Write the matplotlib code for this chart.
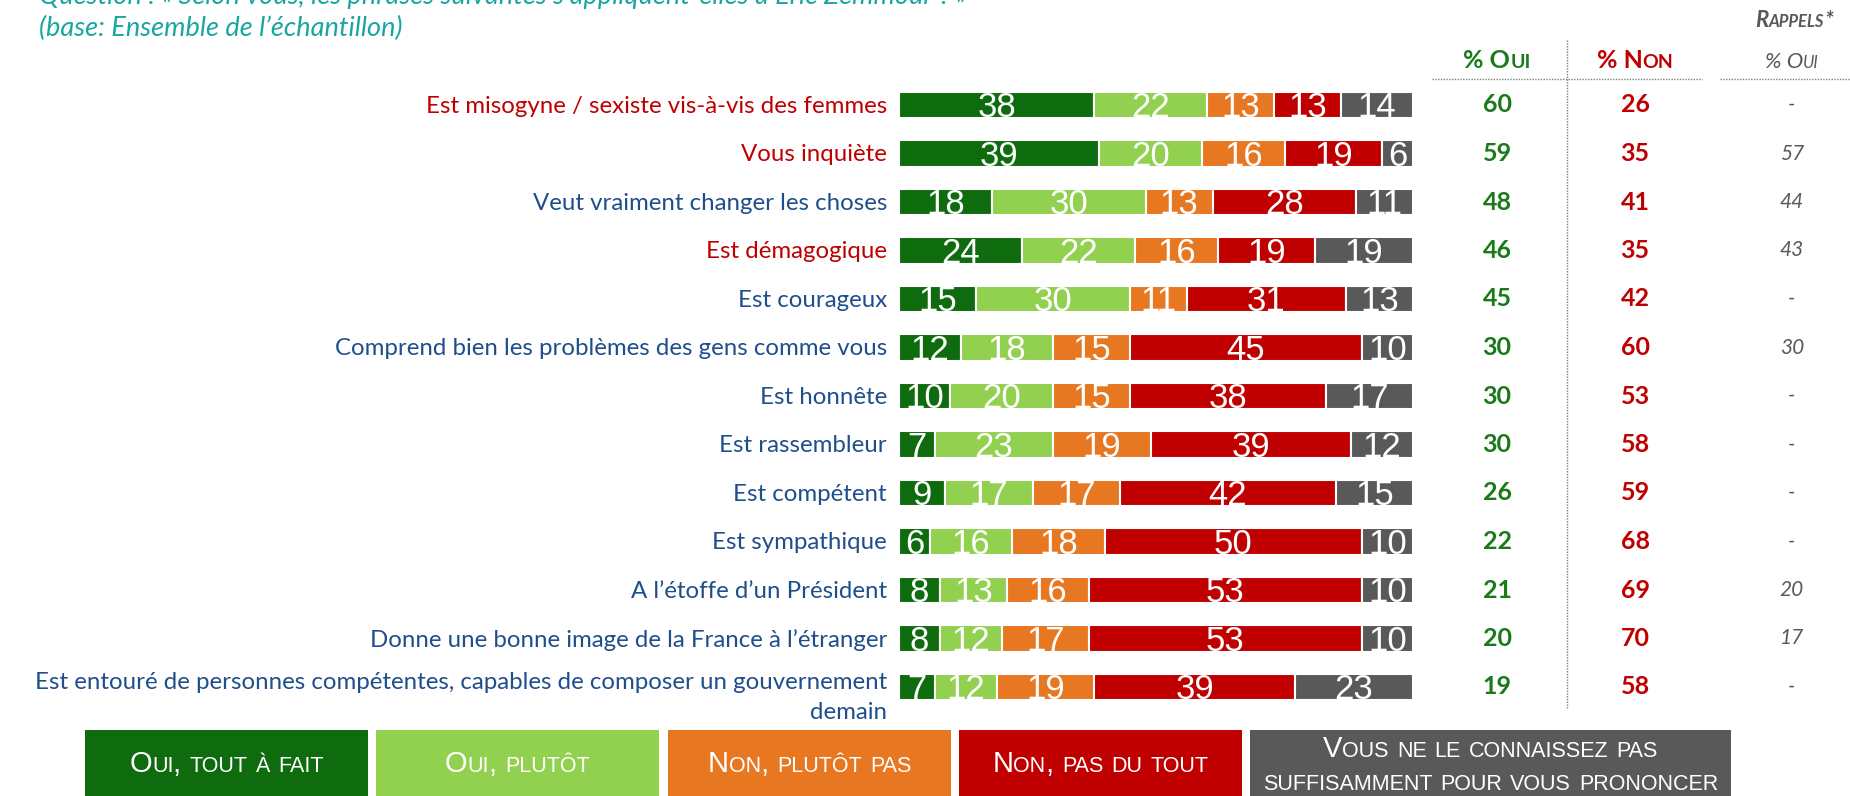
import matplotlib
matplotlib.use('Agg')
import numpy as np
import matplotlib.pyplot as plt
from matplotlib.transforms import IdentityTransform, blended_transform_factory
from matplotlib.patches import Rectangle
from matplotlib.font_manager import FontProperties, fontManager

# Data
labels = [
    "Est misogyne / sexiste vis-à-vis des femmes",
    "Vous inquiète",
    "Veut vraiment changer les choses",
    "Est démagogique",
    "Est courageux",
    "Comprend bien les problèmes des gens comme vous",
    "Est honnête",
    "Est rassembleur",
    "Est compétent",
    "Est sympathique",
    "A l’étoffe d’un Président",
    "Donne une bonne image de la France à l’étranger",
    "Est entouré de personnes compétentes, capables de composer un gouvernement\ndemain",
]
negative_items = [0, 1, 3]  # items written in red

oui_tout_a_fait = [38, 39, 18, 24, 15, 12, 10, 7, 9, 6, 8, 8, 7]
oui_plutot = [22, 20, 30, 22, 30, 18, 20, 23, 17, 16, 13, 12, 12]
non_plutot_pas = [13, 16, 13, 16, 11, 15, 15, 19, 17, 18, 16, 17, 19]
non_pas_du_tout = [13, 19, 28, 19, 31, 45, 38, 39, 42, 50, 53, 53, 39]
ne_connait_pas = [14, 6, 11, 19, 13, 10, 17, 12, 15, 10, 10, 10, 23]

total_oui = [60, 59, 48, 46, 45, 30, 30, 30, 26, 22, 21, 20, 19]
total_non = [26, 35, 41, 35, 42, 60, 53, 58, 59, 68, 69, 70, 58]
rappels_oui = ['-', '57', '44', '43', '-', '30', '-', '-', '-', '-', '20', '17', '-']

series_names = ["Oui, tout à fait", "Oui, plutôt", "Non, plutôt pas", "Non, pas du tout",
                "Vous ne le connaissez pas\nsuffisamment pour vous prononcer"]
series = [oui_tout_a_fait, oui_plutot, non_plutot_pas, non_pas_du_tout, ne_connait_pas]
colors = ['#0e6b0e', '#92d050', '#e87722', '#c00000', '#595959']

GREEN = '#1a7a1a'
RED = '#c00000'
BLUE = '#1f4e8c'
TEAL = '#1aa6a0'
GRAY = '#595959'

installed = {f.name for f in fontManager.ttflist}
NARROW = 'Liberation Sans Narrow' if 'Liberation Sans Narrow' in installed else 'Liberation Sans'
BODY = 'Lato'

W, H = 1850, 796
fig = plt.figure(figsize=(W / 100, H / 100), dpi=100)
renderer = fig.canvas.get_renderer()
pix = IdentityTransform()


def text_width(s, prop):
    w1, _, _ = renderer.get_text_width_height_descent('|' + s + '|', prop, ismath=False)
    w0, _, _ = renderer.get_text_width_height_descent('||', prop, ismath=False)
    return w1 - w0


def smallcaps(x, y_top, s, big, small, color, ha='center', family=BODY, **kw):
    # y_top: baseline position measured from the top of the figure, in pixels
    runs = []
    for ch in s:
        is_small = ch.islower()
        if runs and runs[-1][1] == is_small:
            runs[-1][0] += ch
        else:
            runs.append([ch, is_small])
    parts = []
    for txt, is_small in runs:
        size = small if is_small else big
        prop = FontProperties(family=family, size=size, **kw)
        parts.append((txt.upper(), size, text_width(txt.upper(), prop)))
    total = sum(p[2] for p in parts)
    x0 = x - total / 2 if ha == 'center' else (x - total if ha == 'right' else x)
    for txt, size, w in parts:
        fig.text(x0, H - y_top, txt, transform=pix, fontsize=size, color=color,
                 family=family, ha='left', va='baseline', **kw)
        x0 += w


# Bars
top_px, row_px = 105, 48.5
ax = fig.add_axes([899 / W, 1 - (top_px + 12.5 * row_px) / H, 514 / W, 13 * row_px / H])
y = np.arange(len(labels))
left = np.zeros(len(labels))
for vals, c in zip(series, colors):
    vals = np.array(vals)
    ax.barh(y, vals, left=left, height=0.54, color=c, edgecolor='white', linewidth=1.5)
    for yi, l, v in zip(y, left, vals):
        ax.text(l + v / 2, yi + 0.06, str(v), ha='center', va='center', color='white',
                fontsize=25, family='Liberation Sans')
    left += vals
ax.set_xlim(0, 100)
ax.set_ylim(12.5, -0.5)
ax.axis('off')

trans = blended_transform_factory(pix, ax.transData)
for i, lab in enumerate(labels):
    off = 0.22 if '\n' in lab else 0.03
    ax.text(887, i + off, lab, transform=trans, ha='right', va='center', multialignment='right',
            color=RED if i in negative_items else BLUE, fontsize=17.3, family=BODY,
            linespacing=1.55)
    ax.text(1497, i, str(total_oui[i]), transform=trans, ha='center', va='center',
            color=GREEN, fontsize=18, family=BODY, fontweight='bold')
    ax.text(1635, i, str(total_non[i]), transform=trans, ha='center', va='center',
            color=RED, fontsize=18, family=BODY, fontweight='bold')
    ax.text(1792, i, rappels_oui[i], transform=trans, ha='center', va='center',
            color=GRAY, fontsize=15, family=BODY, style='italic')

# Column headers and separators
smallcaps(1497, 68, "% Oui", 18, 14, GREEN, weight='bold')
smallcaps(1635, 68, "% Non", 18, 14, RED, weight='bold')
smallcaps(1792, 68, "% Oui", 16, 12, GRAY, style='italic')
smallcaps(1833, 27, "Rappels*", 16, 12, GRAY, ha='right', style='italic', weight='bold')

for x0, x1 in [(1432, 1702), (1720, 1850)]:
    fig.add_artist(plt.Line2D([x0, x1], [H - 79, H - 79], transform=pix, color='#7f7f7f',
                              lw=1, ls=(0, (1, 1))))
fig.add_artist(plt.Line2D([1567, 1567], [H - 40, H - 708], transform=pix, color='#7f7f7f',
                          lw=1, ls=(0, (1, 1))))

# Title (first line is cut by the top edge, as in the source slide)
fig.text(39, H - 4, "Question : « Selon vous, les phrases suivantes s’appliquent-elles à Eric Zemmour ? »",
         transform=pix, ha='left', va='baseline', color=TEAL, fontsize=19.5, family=BODY,
         style='italic')
fig.text(39, H - 36, "(base: Ensemble de l’échantillon)", transform=pix, ha='left', va='baseline',
         color=TEAL, fontsize=19.5, family=BODY, style='italic')

# Legend boxes
boxes = [(85, 368), (376, 659), (668, 951), (959, 1242), (1250, 1731)]
for (x0, x1), name, c in zip(boxes, series_names, colors):
    fig.add_artist(Rectangle((x0, 0), x1 - x0, H - 730, transform=pix, facecolor=c,
                             edgecolor='none'))
    lines = name.split('\n')
    if len(lines) == 1:
        smallcaps((x0 + x1) / 2, 772, lines[0], 21, 15.5, 'white', family=NARROW)
    else:
        smallcaps((x0 + x1) / 2, 757, lines[0], 21, 15.5, 'white', family=NARROW)
        smallcaps((x0 + x1) / 2, 790, lines[1], 21, 15.5, 'white', family=NARROW)

fig.savefig('out.png', dpi=100)
